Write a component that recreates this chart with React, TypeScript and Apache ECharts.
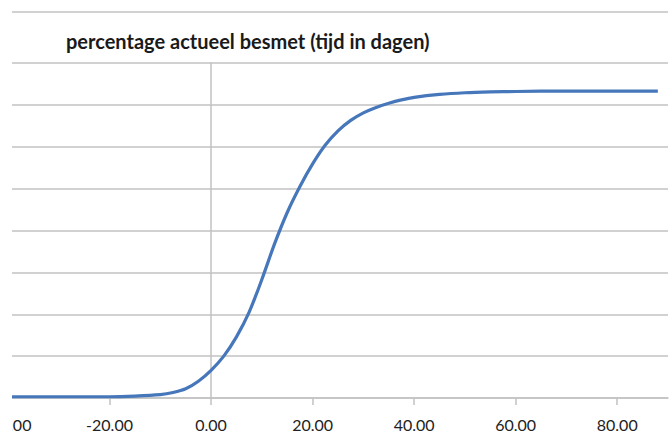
import React, { useEffect, useRef } from "react";
import * as echarts from "echarts";

// Days since the start of the outbreak (x) and percentage currently infected (y)
const days = [
  -40, -30, -20, -15, -10, -7.5, -5, -2.5, 0, 2.5, 5, 7.5, 10, 12.5, 15, 17.5,
  20, 22.5, 25, 27.5, 30, 32.5, 35, 37.5, 40, 45, 50, 55, 60, 70, 80, 88,
];
const besmetPct = [
  0.3, 0.3, 0.3, 0.45, 0.8, 1.3, 2.2, 4.0, 6.6, 10.0, 14.6, 20.5, 28.3, 36.8,
  44.3, 50.5, 55.9, 60.4, 63.8, 66.3, 68.1, 69.4, 70.4, 71.2, 71.8, 72.5, 72.9,
  73.1, 73.2, 73.3, 73.3, 73.3,
];
const xTicks = [-40, -20, 0, 20, 40, 60, 80];

const title = "percentage actueel besmet (tijd in dagen)";

const GRID_COLOR = "#C2C2C2";
const LINE_COLOR = "#4677BA";

export default function App() {
  const ref = useRef<HTMLDivElement>(null);

  useEffect(() => {
    if (!ref.current) return;
    const chart = echarts.init(ref.current, undefined, { renderer: "svg" });
    const data = days.map((d, i) => [d, besmetPct[i]]);
    chart.setOption({
      animation: false,
      backgroundColor: "#ffffff",
      title: {
        text: title,
        left: 89,
        top: 26,
        textStyle: {
          fontFamily: "Lato",
          fontWeight: "bold",
          fontSize: 20,
          color: "#1a1a1a",
        },
      },
      graphic: [
        {
          type: "line",
          shape: { x1: 36, y1: 12, x2: 696, y2: 12 },
          style: { stroke: GRID_COLOR, lineWidth: 1.5 },
          silent: true,
        },
      ],
      grid: { left: 36, right: 4, top: 63, bottom: 38 },
      xAxis: {
        type: "value",
        min: -40,
        max: 90,
        interval: 20,
        axisLine: { show: true, onZero: false, lineStyle: { color: GRID_COLOR, width: 1.5 } },
        axisTick: {
          show: true,
          length: 7,
          customValues: xTicks,
          lineStyle: { color: GRID_COLOR, width: 1.5 },
        },
        axisLabel: {
          customValues: xTicks,
          margin: 18,
          fontFamily: "Lato",
          fontSize: 16,
          color: "#222222",
          formatter: (v: number) => v.toFixed(2),
        },
        splitLine: { show: false },
      },
      yAxis: {
        type: "value",
        min: 0,
        max: 80,
        interval: 10,
        axisLine: { show: true, onZero: true, lineStyle: { color: GRID_COLOR, width: 1.5 } },
        axisTick: { show: false },
        axisLabel: { show: false },
        splitLine: { show: true, lineStyle: { color: GRID_COLOR, width: 1.5 } },
      },
      series: [
        {
          type: "line",
          data,
          smooth: 0.3,
          showSymbol: false,
          lineStyle: { color: LINE_COLOR, width: 3.2 },
          itemStyle: { color: LINE_COLOR },
        },
      ],
    });
    return () => chart.dispose();
  }, []);

  return (
    <div
      style={{
        position: "fixed",
        left: 0,
        top: 0,
        width: 672,
        height: 436,
        background: "#ffffff",
        overflow: "hidden",
      }}
    >
      <div
        style={{
          position: "absolute",
          left: 12,
          top: 0,
          width: 660,
          height: 436,
          overflow: "hidden",
        }}
      >
        <div
          ref={ref}
          style={{ position: "absolute", left: -40, top: 0, width: 700, height: 436 }}
        />
      </div>
    </div>
  );
}
